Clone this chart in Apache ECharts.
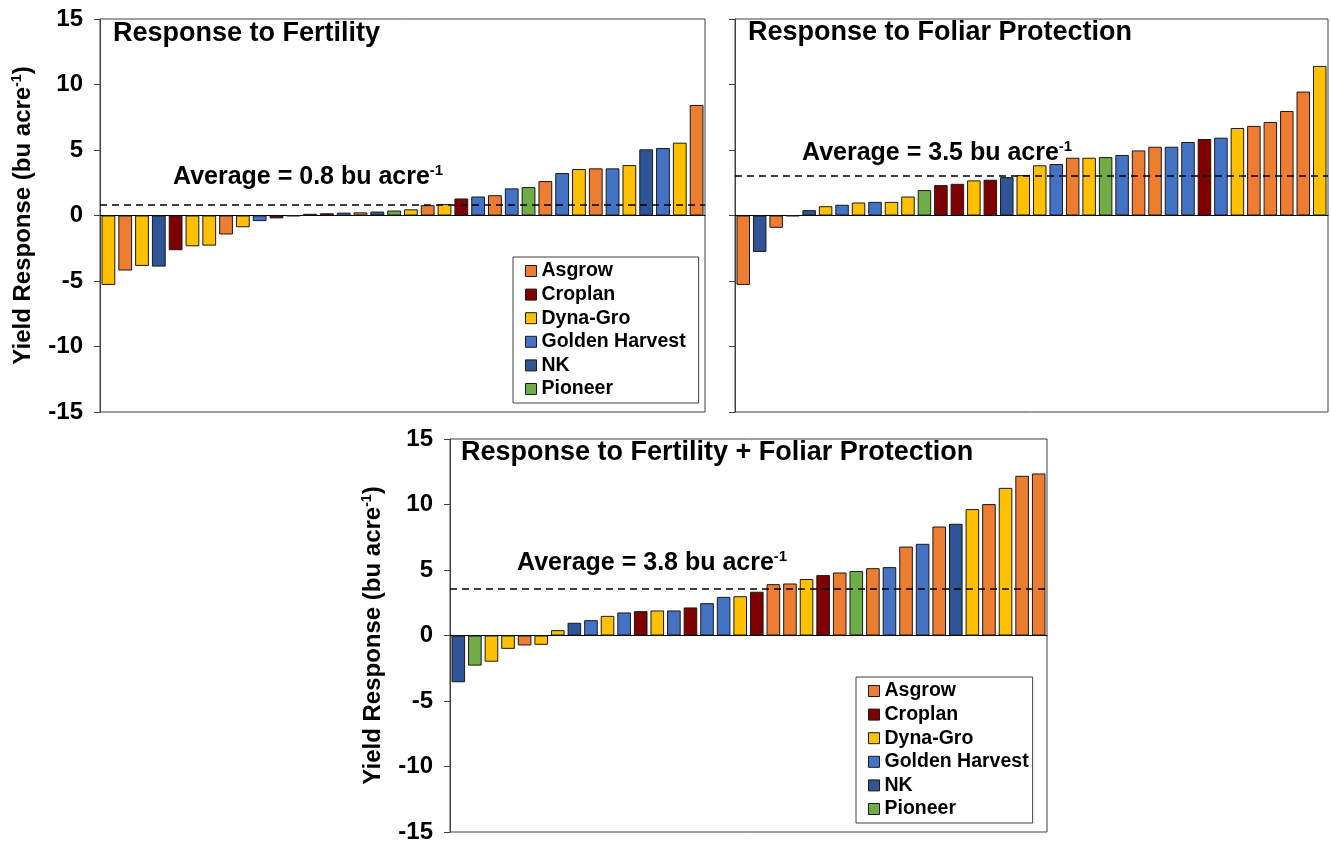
<!DOCTYPE html>
<html><head><meta charset="utf-8">
<script src="https://cdn.jsdelivr.net/npm/echarts@6/dist/echarts.min.js"></script>
<style>html,body{margin:0;padding:0;background:#fff}#c{width:1331px;height:844px}</style>
</head><body><div id="c"></div>
<script>
const brands = ['Asgrow', 'Croplan', 'Dyna-Gro', 'Golden Harvest', 'NK', 'Pioneer'];
const brandColors = ['#ED7D31', '#7F0000', '#FFC000', '#4472C4', '#2F5597', '#70AD47'];
const hybrids = ['1','2','3','4','5','6','7','8','9','10','11','12','13','14','15','16','17','18',
  '19','20','21','22','23','24','25','26','27','28','29','30','31','32','33','34','35','36'];
const yTicks = [-15, -10, -5, 0, 5, 10, 15];

// Response to Fertility
const fertBrand = ['Dyna-Gro','Asgrow','Dyna-Gro','NK','Croplan','Dyna-Gro','Dyna-Gro','Asgrow','Dyna-Gro',
  'Golden Harvest','Croplan','NK','Asgrow','Croplan','Golden Harvest','Asgrow','NK','Pioneer',
  'Dyna-Gro','Asgrow','Dyna-Gro','Croplan','Golden Harvest','Asgrow','Golden Harvest','Pioneer','Asgrow',
  'Golden Harvest','Dyna-Gro','Asgrow','Golden Harvest','Dyna-Gro','NK','Golden Harvest','Dyna-Gro','Asgrow'];
const fertValues = [-5.3,-4.2,-3.85,-3.9,-2.65,-2.35,-2.3,-1.45,-0.9,-0.43,-0.22,-0.05,0.13,0.17,0.22,0.24,0.3,0.38,
  0.47,0.79,0.87,1.3,1.45,1.55,2.07,2.17,2.63,3.24,3.55,3.6,3.6,3.85,5.05,5.15,5.56,8.44];

// Response to Foliar Protection
const foliarBrand = ['Asgrow','NK','Asgrow','NK','NK','Dyna-Gro','Golden Harvest','Dyna-Gro','Golden Harvest',
  'Dyna-Gro','Dyna-Gro','Pioneer','Croplan','Croplan','Dyna-Gro','Croplan','NK','Dyna-Gro',
  'Dyna-Gro','Golden Harvest','Asgrow','Dyna-Gro','Pioneer','Golden Harvest','Asgrow','Asgrow','Golden Harvest',
  'Golden Harvest','Croplan','Golden Harvest','Dyna-Gro','Asgrow','Asgrow','Asgrow','Asgrow','Dyna-Gro'];
const foliarValues = [-5.3,-2.78,-0.94,-0.05,0.41,0.71,0.82,0.99,1.04,1.04,1.45,1.94,2.32,2.42,2.68,2.73,2.93,3.08,
  3.83,3.93,4.41,4.41,4.46,4.62,4.97,5.25,5.25,5.61,5.84,5.94,6.68,6.84,7.14,7.98,9.46,11.42];

// Response to Fertility + Foliar Protection
const bothBrand = ['NK','Pioneer','Dyna-Gro','Dyna-Gro','Asgrow','Dyna-Gro','Dyna-Gro','NK','Golden Harvest',
  'Dyna-Gro','Golden Harvest','Croplan','Dyna-Gro','Golden Harvest','Croplan','Golden Harvest','Golden Harvest','Dyna-Gro',
  'Croplan','Asgrow','Asgrow','Dyna-Gro','Croplan','Asgrow','Pioneer','Asgrow','Golden Harvest',
  'Asgrow','Golden Harvest','Asgrow','NK','Dyna-Gro','Asgrow','Dyna-Gro','Asgrow','Asgrow'];
const bothValues = [-3.57,-2.3,-2.0,-1.02,-0.76,-0.71,0.41,0.97,1.17,1.5,1.76,1.86,1.91,1.91,2.14,2.47,2.95,3.0,
  3.34,3.92,3.97,4.31,4.61,4.81,4.92,5.14,5.22,6.79,7.0,8.32,8.53,9.65,10.03,11.27,12.19,12.37];

const panelTitles = ['Response to Fertility', 'Response to Foliar Protection', 'Response to Fertility + Foliar Protection'];
const averageTexts = ['0.8', '3.5', '3.8'];
const averageLines = [0.8, 3.0, 3.6];
const yName = 'Yield Response (bu acre';

const FONT = '"Liberation Sans", Arial, sans-serif';
const colorOf = b => brandColors[brands.indexOf(b)];

const grids = [
  {left: 100, top: 19, width: 605, height: 393},
  {left: 735, top: 19, width: 593, height: 393},
  {left: 450, top: 439, width: 597, height: 394}
];
const titlePos = [{left: 113, top: 20}, {left: 748, top: 19}, {left: 461, top: 439}];
const avgPos = [{left: 173, top: 163}, {left: 802, top: 139}, {left: 517, top: 549}];
const panelBrands = [fertBrand, foliarBrand, bothBrand];
const panelValues = [fertValues, foliarValues, bothValues];
const showLabels = [true, false, true];

const option = {
  animation: false,
  backgroundColor: '#fff',
  title: [],
  grid: [],
  xAxis: [],
  yAxis: [],
  series: [],
  legend: []
};

grids.forEach((g, i) => {
  option.grid.push(Object.assign({show: true, borderColor: '#404040', borderWidth: 1, backgroundColor: 'transparent'}, g));
  option.xAxis.push({
    type: 'category', gridIndex: i, data: hybrids,
    axisTick: {show: false}, axisLabel: {show: false},
    axisLine: {show: true, onZero: true, lineStyle: {color: '#000', width: 1}},
    splitLine: {show: false}
  });
  option.yAxis.push({
    type: 'value', gridIndex: i, min: yTicks[0], max: yTicks[yTicks.length - 1], interval: 5,
    axisLine: {show: true, lineStyle: {color: '#404040', width: 1}},
    axisTick: {show: true, inside: false, length: 6, lineStyle: {color: '#404040'}},
    axisLabel: {show: showLabels[i], margin: 17, color: '#000', fontSize: 24, fontWeight: 'bold', fontFamily: FONT},
    splitLine: {show: false},
    name: showLabels[i] ? '{a|' + yName + '}{s|-1}{a|)}' : '',
    nameLocation: 'middle', nameGap: 64, nameRotate: 90,
    nameTextStyle: {
      rich: {
        a: {fontSize: 24, fontWeight: 'bold', fontFamily: FONT, color: '#000', lineHeight: 26},
        s: {fontSize: 14, fontWeight: 'bold', fontFamily: FONT, color: '#000', verticalAlign: 'top', lineHeight: 26}
      }
    }
  });
  option.series.push({
    type: 'bar', xAxisIndex: i, yAxisIndex: i,
    barCategoryGap: '18%',
    itemStyle: {borderColor: '#1a1a1a', borderWidth: 1},
    data: panelValues[i].map((v, j) => ({value: v, itemStyle: {color: colorOf(panelBrands[i][j])}})),
    markLine: {
      silent: true, symbol: 'none', label: {show: false},
      lineStyle: {color: '#000', type: [7, 5], width: 1.5},
      data: [{yAxis: averageLines[i]}]
    }
  });
  option.title.push(Object.assign({
    text: panelTitles[i],
    textStyle: {fontFamily: FONT, fontWeight: 'bold', fontSize: 27, color: '#000'},
    padding: 0
  }, titlePos[i]));
  option.title.push(Object.assign({
    text: '{a|Average = ' + averageTexts[i] + ' bu acre}{s|-1}',
    padding: 0,
    textStyle: {
      rich: {
        a: {fontFamily: FONT, fontWeight: 'bold', fontSize: 25, color: '#000', lineHeight: 28},
        s: {fontFamily: FONT, fontWeight: 'bold', fontSize: 15, color: '#000', verticalAlign: 'top', lineHeight: 28}
      }
    }
  }, avgPos[i]));
});

// hidden grid for legend-only series
option.grid.push({left: 0, top: 0, width: 1, height: 1, show: false});
option.xAxis.push({type: 'category', gridIndex: 3, show: false, data: ['x']});
option.yAxis.push({type: 'value', gridIndex: 3, show: false});
brands.forEach((b, k) => {
  option.series.push({
    type: 'bar', name: b, xAxisIndex: 3, yAxisIndex: 3, data: [],
    itemStyle: {color: brandColors[k], borderColor: '#1a1a1a', borderWidth: 1}
  });
});

const legendBase = {
  data: brands, orient: 'vertical', selectedMode: false,
  itemWidth: 11, itemHeight: 11, itemGap: 3.6, icon: 'rect',
  borderColor: '#404040', borderWidth: 1,
  itemStyle: {borderColor: '#1a1a1a', borderWidth: 1},
  textStyle: {fontFamily: FONT, fontWeight: 'bold', fontSize: 19.5, color: '#000', lineHeight: 20}
};
option.legend.push(Object.assign({}, legendBase, {left: 513, top: 257, padding: [4, 13, 4, 12]}));
option.legend.push(Object.assign({}, legendBase, {left: 856, top: 677, padding: [4, 4, 4, 12]}));

const chart = echarts.init(document.getElementById('c'), null, {renderer: 'canvas'});
chart.setOption(option);
</script>
</body></html>
